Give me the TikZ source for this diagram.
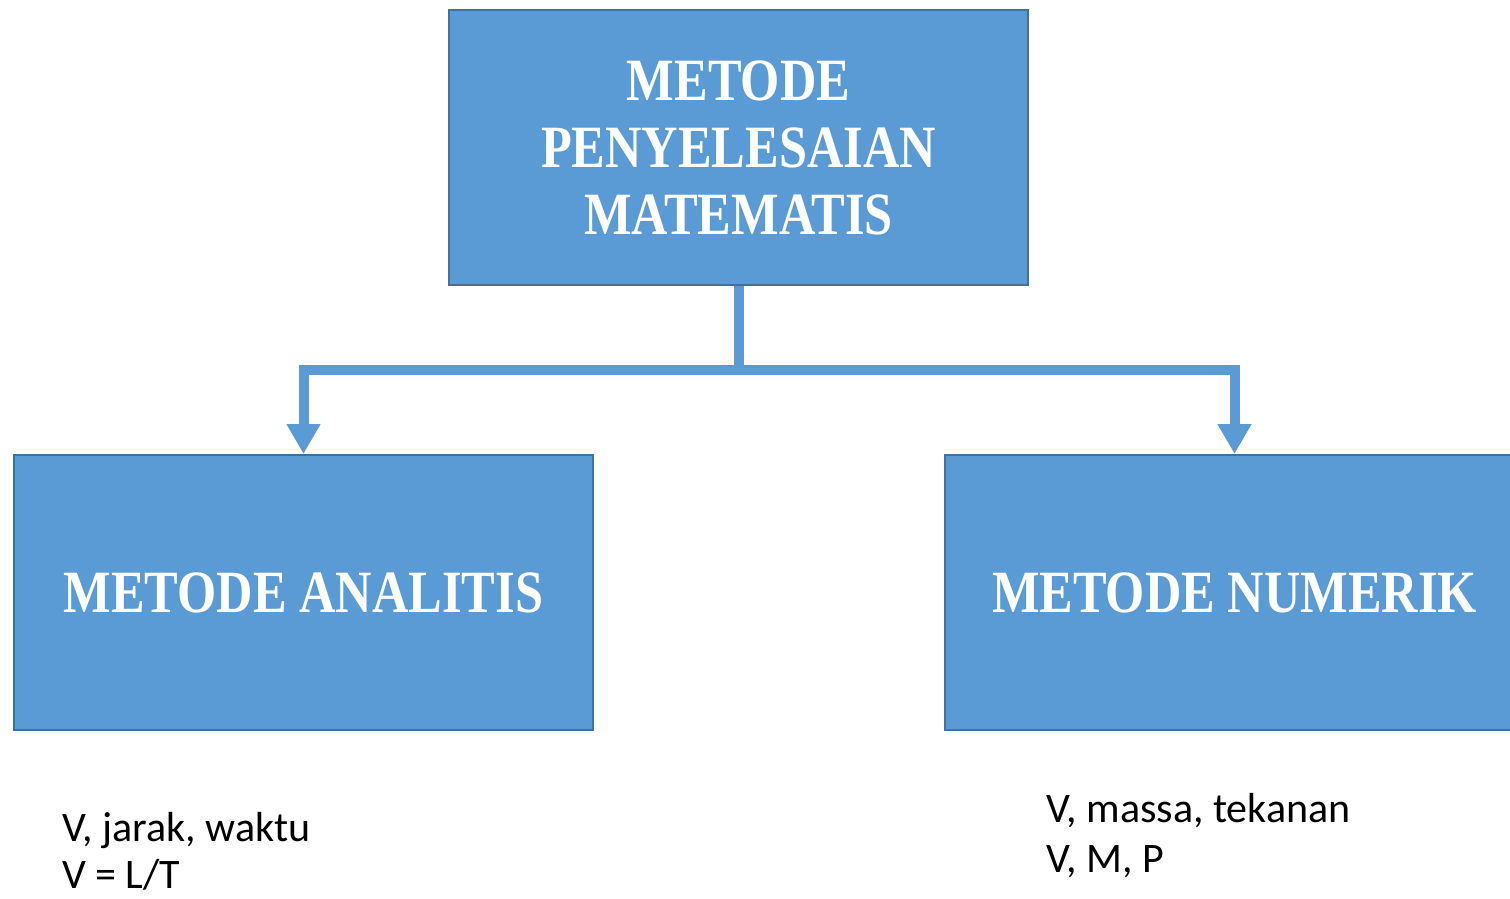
\documentclass[tikz,border=0pt]{standalone}
\usepackage{fontspec}
\setmainfont{Carlito}
\newfontfamily\titlefont[FakeStretch=0.84]{Liberation Serif}
\usetikzlibrary{arrows.meta}
\definecolor{boxfill}{HTML}{5B9BD5}
\definecolor{boxline}{HTML}{41719C}
\begin{document}
\begin{tikzpicture}[x=1pt,y=-1pt,
  box/.style={draw=boxline, line width=2pt, fill=boxfill, inner sep=0pt,
    minimum width=579pt, minimum height=275pt, text=white, align=center,
    font=\titlefont\bfseries\fontsize{60}{67}\selectfont},
  conn/.style={draw=boxfill, line width=10pt, -{Triangle[width=32pt,length=30pt]}},
  note/.style={anchor=base west, inner sep=0pt, font=\fontsize{42}{49}\selectfont}]
\useasboundingbox (0,0) rectangle (1510,898);
\clip (0,0) rectangle (1510,898);
\node[box] (top) at (738.5,147.5) {METODE\\PENYELESAIAN\\MATEMATIS};
\node[box] (left) at (303.5,592.5) {METODE ANALITIS};
\node[box] (right) at (1234.5,592.5) {METODE NUMERIK};
\coordinate (j) at (738.5,370);
\draw[conn] (top.south) -- (j) -| (left.north);
\draw[conn] (top.south) -- (j) -| (right.north);
\node[note] (a1) at (62,841) {V, jarak, waktu};
\node[note] (a2) at (62,888) {V = L/T};
\node[note] (b1) at (1046,822) {V, massa, tekanan};
\node[note] (b2) at (1046,872) {V, M, P};
\end{tikzpicture}
\end{document}
